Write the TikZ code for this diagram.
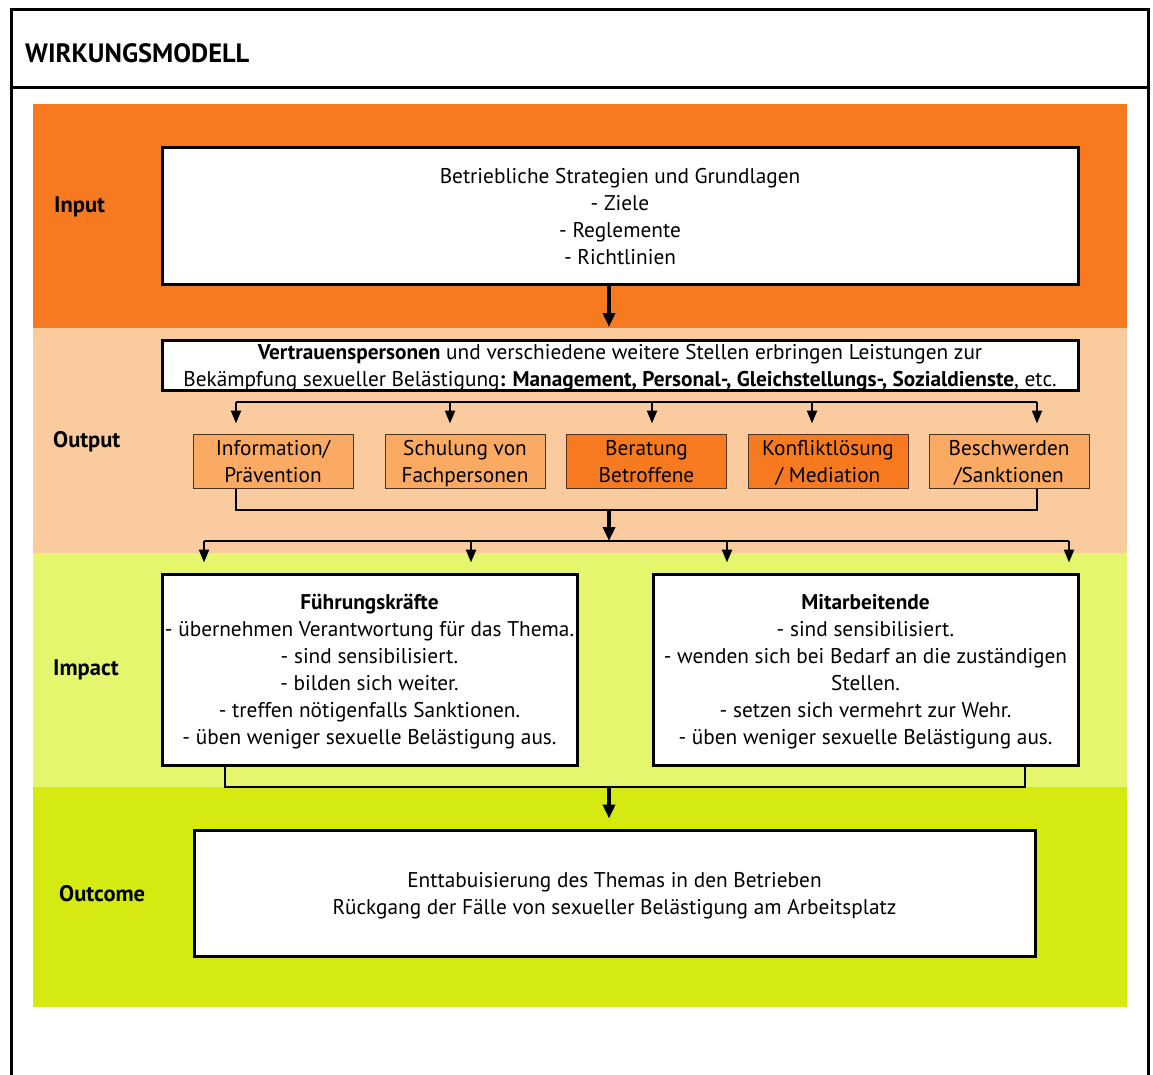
\documentclass[tikz,border=0pt]{standalone}
\usepackage{fontspec}
\setmainfont{PT Sans}
\usetikzlibrary{arrows.meta}
\definecolor{cInput}{RGB}{248,122,32}
\definecolor{cOutput}{RGB}{251,203,160}
\definecolor{cImpact}{RGB}{230,245,110}
\definecolor{cOutcome}{RGB}{212,234,16}
\definecolor{cLight}{RGB}{251,170,100}
\definecolor{cEdge}{RGB}{80,50,30}
\begin{document}
\begin{tikzpicture}[x=1pt,y=-1pt,
  txt/.style={font=\fontsize{21.3}{27}\selectfont, align=center, text depth=0pt},
  bigbox/.style={draw, line width=3pt, fill=white, txt, inner sep=0pt},
  smallbox/.style={draw=cEdge, line width=1pt, txt, inner sep=0pt, minimum width=160pt, minimum height=54pt},
  lbl/.style={font=\fontsize{22.5}{26}\selectfont\bfseries, anchor=west, inner sep=0pt},
  thinline/.style={line width=1.2pt},
  thickarrow/.style={line width=3.5pt, -{Triangle[width=12pt,length=14pt]}},
  smallarrow/.style={line width=2.2pt, -{Triangle[width=10pt,length=13pt]}}
]
\useasboundingbox (0,0) rectangle (1153,1075);
\fill[white] (0,0) rectangle (1153,1075);
% bands
\fill[cInput] (33,104) rectangle (1127,328);
\fill[cOutput] (33,328) rectangle (1127,553);
\fill[cImpact] (33,553) rectangle (1127,787);
\fill[cOutcome] (33,787) rectangle (1127,1007);
% frame
\draw[line width=3pt] (11.5,1075) -- (11.5,9.5) -- (1148.5,9.5) -- (1148.5,1075);
\draw[line width=3pt] (11.5,87.5) -- (1148.5,87.5);
\node[font=\fontsize{26.5}{30}\selectfont\bfseries, anchor=west, inner sep=0pt] (title) at (25,53) {WIRKUNGSMODELL};
% labels
\node[lbl] (lin) at (54,207) {Input};
\node[lbl] (lout) at (53,442) {Output};
\node[lbl] (limp) at (53,670) {Impact};
\node[lbl] (lres) at (59,894) {Outcome};
% boxes
\node[bigbox, minimum width=916pt, minimum height=136pt] (inp) at (620,216)
  {Betriebliche Strategien und Grundlagen\\- Ziele\\- Reglemente\\- Richtlinien};
\node[bigbox, minimum width=916pt, minimum height=50pt] (outp) at (620,365)
  {\textbf{Vertrauenspersonen} und verschiedene weitere Stellen erbringen Leistungen zur\\Bekämpfung sexueller Belästigung\textbf{: Management, Personal-, Gleichstellungs-, Sozialdienste}, etc.};
\node[smallbox, fill=cLight] (b1) at (273,461) {Information/\\Prävention};
\node[smallbox, fill=cLight] (b2) at (465,461) {Schulung von\\Fachpersonen};
\node[smallbox, fill=cInput] (b3) at (646.5,461) {Beratung\\Betroffene};
\node[smallbox, fill=cInput] (b4) at (828,461) {Konfliktlösung\\/ Mediation};
\node[smallbox, fill=cLight] (b5) at (1009,461) {Beschwerden\\/Sanktionen};
\node[bigbox, minimum width=415pt, minimum height=191pt] (fk) at (369.5,669.5)
  {\textbf{Führungskräfte}\\- übernehmen Verantwortung für das Thema.\\- sind sensibilisiert.\\- bilden sich weiter.\\- treffen nötigenfalls Sanktionen.\\- üben weniger sexuelle Belästigung aus.};
\node[bigbox, minimum width=425pt, minimum height=191pt] (ma) at (865.5,669.5)
  {\textbf{Mitarbeitende}\\- sind sensibilisiert.\\- wenden sich bei Bedarf an die zuständigen\\Stellen.\\- setzen sich vermehrt zur Wehr.\\- üben weniger sexuelle Belästigung aus.};
\node[bigbox, minimum width=841pt, minimum height=126pt] (res) at (614.5,893)
  {Enttabuisierung des Themas in den Betrieben\\Rückgang der Fälle von sexueller Belästigung am Arbeitsplatz};
% input -> output
\coordinate (a0) at (609,328);
\draw[thickarrow, shorten >=1pt] (inp.south -| a0) -- (a0);
% output distribution
\coordinate (d1) at (236,402);
\coordinate (d2) at (450,402);
\coordinate (d3) at (652,402);
\coordinate (d4) at (812,402);
\coordinate (d5) at (1037,402);
\draw[thinline] (d1) -- (d5);
\foreach \i/\b in {1/b1,2/b2,3/b3,4/b4,5/b5}
  \draw[smallarrow, shorten >=10pt] (d\i) -- (d\i |- \b.north);
% collect small boxes
\coordinate (c1) at (236,510);
\coordinate (c5) at (1037,510);
\draw[thinline] (c1 |- b1.south) -- (c1) -- (c5) -- (c5 |- b5.south);
\coordinate (m1) at (609,510);
\coordinate (m2) at (609,541);
\draw[thickarrow] (m1) -- (m2);
% distribute to impact
\coordinate (e1) at (204,541);
\coordinate (e2) at (471,541);
\coordinate (e3) at (727,541);
\coordinate (e4) at (1069,541);
\draw[thinline] (e1) -- (e4);
\draw[smallarrow, shorten >=10pt] (e1) -- (e1 |- fk.north);
\draw[smallarrow, shorten >=10pt] (e2) -- (e2 |- fk.north);
\draw[smallarrow, shorten >=10pt] (e3) -- (e3 |- ma.north);
\draw[smallarrow, shorten >=10pt] (e4) -- (e4 |- ma.north);
% collect impact
\coordinate (f1) at (225,787);
\coordinate (f2) at (1025,787);
\draw[thinline] (f1 |- fk.south) -- (f1) -- (f2) -- (f2 |- ma.south);
\coordinate (g1) at (609,787);
\draw[thickarrow, shorten >=10pt] (g1) -- (g1 |- res.north);
\end{tikzpicture}
\end{document}
